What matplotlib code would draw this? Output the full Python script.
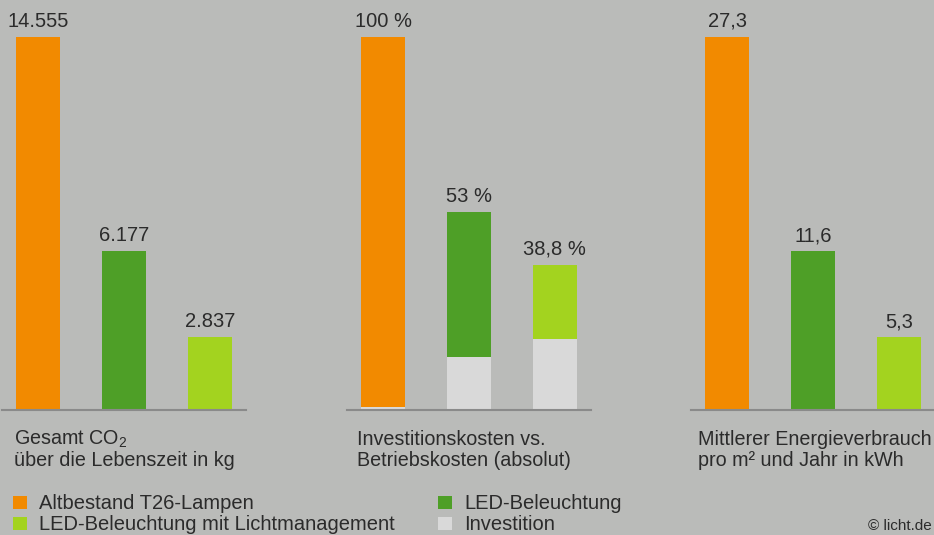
import matplotlib

matplotlib.use("Agg")
import matplotlib.pyplot as plt
from matplotlib.patches import Rectangle

plt.rcParams["font.family"] = ["Liberation Sans", "DejaVu Sans"]
plt.rcParams["mathtext.fontset"] = "custom"
plt.rcParams["mathtext.rm"] = "Liberation Sans"
plt.rcParams["mathtext.it"] = "Liberation Sans"

# data
co2_values = [14555, 6177, 2837]
co2_labels = ["14.555", "6.177", "2.837"]
cost_totals = [100, 53, 38.8]
cost_invest = [0.6, 14, 19]
cost_labels = ["100 %", "53 %", "38,8 %"]
energy_values = [27.3, 11.6, 5.3]
energy_labels = ["27,3", "11,6", "5,3"]
captions = [
    ("Gesamt CO$_2$", "über die Lebenszeit in kg"),
    ("Investitionskosten vs.", "Betriebskosten (absolut)"),
    ("Mittlerer Energieverbrauch", "pro m² und Jahr in kWh"),
]
legend_names = [
    "Altbestand T26-Lampen",
    "LED-Beleuchtung",
    "LED-Beleuchtung mit Lichtmanagement",
    "Investition",
]

BG = "#babbb9"
ORANGE = "#f28a00"
GREEN = "#4e9f27"
LIME = "#a3d31f"
INVEST = "#d9d9d9"
LINE = "#8a8a8a"
TEXT = "#2b2b2b"
bar_colors = [ORANGE, GREEN, LIME]
FS = 14.5
CAP_FS = 14.2

W, H = 934, 535
fig = plt.figure(figsize=(W / 100, H / 100), dpi=100, facecolor=BG)


def px_axes(left, bottom_y, width, top_y):
    return fig.add_axes([left / W, 1 - bottom_y / H, width / W, (bottom_y - top_y) / H])


def style(ax, ymax):
    ax.set_facecolor("none")
    ax.set_xlim(-0.42, 2.42)
    ax.set_ylim(0, ymax)
    for side in ("top", "left", "right"):
        ax.spines[side].set_visible(False)
    ax.spines["bottom"].set_color(LINE)
    ax.spines["bottom"].set_linewidth(1.5)
    ax.set_xticks([])
    ax.set_yticks([])


def value_labels(ax, tops, labels):
    for i, (top, lab) in enumerate(zip(tops, labels)):
        ax.annotate(lab, (i, top), xytext=(0, 7.2), textcoords="offset points",
                    ha="center", va="baseline", fontsize=FS, color=TEXT)


x = [0, 1, 2]
bw = 44 / 86
panel_left = [2, 347, 691]

ax1 = px_axes(panel_left[0], 409.5, 244, 37)
style(ax1, max(co2_values))
ax1.bar(x, co2_values, width=bw, color=bar_colors)
value_labels(ax1, co2_values, co2_labels)

ax2 = px_axes(panel_left[1], 409.5, 244, 37)
style(ax2, max(cost_totals))
operating = [t - i for t, i in zip(cost_totals, cost_invest)]
ax2.bar(x, cost_invest, width=bw, color=INVEST)
ax2.bar(x, operating, bottom=cost_invest, width=bw, color=bar_colors)
value_labels(ax2, cost_totals, cost_labels)

ax3 = px_axes(panel_left[2], 409.5, 244, 37)
style(ax3, max(energy_values))
ax3.bar(x, energy_values, width=bw, color=bar_colors)
value_labels(ax3, energy_values, energy_labels)

for left, (line1, line2) in zip([14, 357, 698], captions):
    fig.text(left / W, 1 - 445 / H, line1, ha="left", va="baseline", fontsize=CAP_FS, color=TEXT)
    fig.text(left / W, 1 - 466 / H, line2, ha="left", va="baseline", fontsize=CAP_FS, color=TEXT)

# legend
legend_colors = [ORANGE, GREEN, LIME, INVEST]
legend_pos = [(13, 509), (438, 509), (13, 530), (438, 530)]
for (lx, ly), name, col in zip(legend_pos, legend_names, legend_colors):
    fig.patches.append(Rectangle((lx / W, 1 - ly / H), 14 / W, 13 / H,
                                 transform=fig.transFigure, facecolor=col, edgecolor="none"))
    fig.text((lx + 26) / W, 1 - ly / H, name, ha="left", va="baseline", fontsize=FS, color=TEXT)

fig.text(868 / W, 1 - 530 / H, "© licht.de", ha="left", va="baseline", fontsize=11, color=TEXT)

fig.savefig("out.png", dpi=100, facecolor=BG)
